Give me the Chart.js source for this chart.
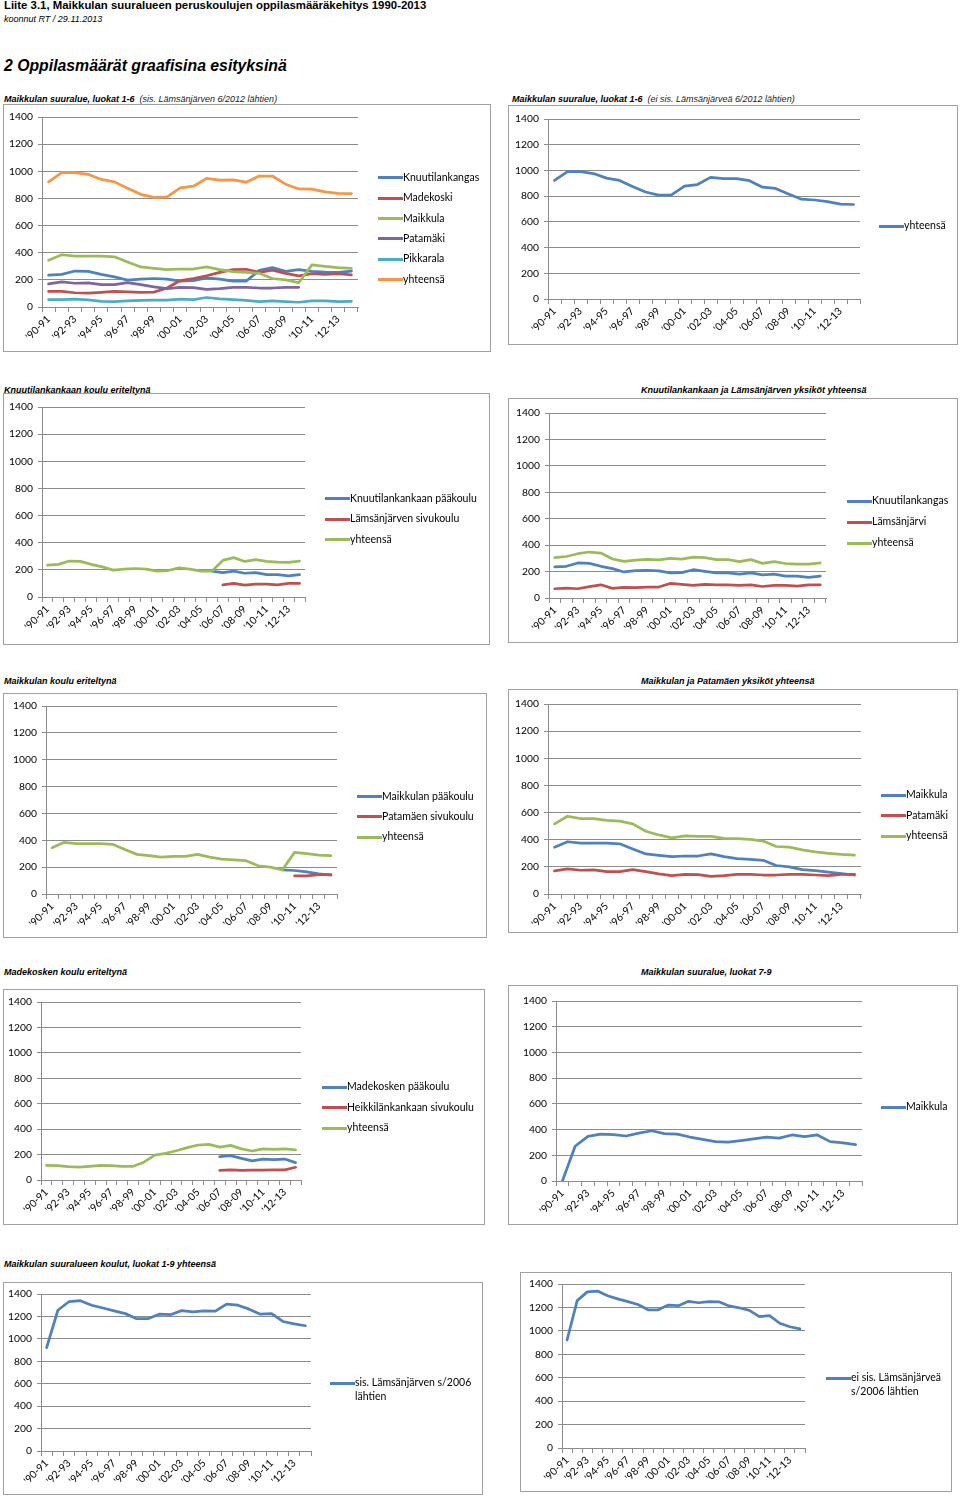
<!DOCTYPE html>
<html lang="fi">
<head>
<meta charset="utf-8">
<title>Maikkulan suuralueen peruskoulujen oppilasmääräkehitys 1990-2013</title>
<script src="https://cdn.jsdelivr.net/npm/chart.js@4.4.1/dist/chart.umd.min.js"></script>
<style>
  body { margin: 0; width: 960px; height: 1497px; background: #fff; position: relative; overflow: hidden;
         font-family: "Liberation Sans", Arial, sans-serif; color: #000; }
  .txt { position: absolute; white-space: nowrap; }
  .head { left: 4px; top: -2px; font-size: 11.4px; line-height: 14px; font-weight: bold; }
  .sub { left: 4px; top: 13px; font-size: 9px; line-height: 12px; font-style: italic; }
  .sect { left: 4px; top: 56px; font-size: 15.8px; line-height: 20px; font-weight: bold; font-style: italic; }
  .ttl { font-size: 9px; line-height: 10px; font-weight: bold; font-style: italic; }
  .ttl span { font-weight: normal; color: #222; }
  canvas { position: absolute; }
  .frame { position: absolute; border: 1px solid #a0a0a0; box-sizing: border-box; }
  .legend-item { position: absolute; display: flex; align-items: flex-start;
                 font-family: Lato, sans-serif; font-size: 10.5px; line-height: 13.5px; }
  .legend-item i { flex: none; width: 25px; height: 3px; margin-top: 5.5px; }
  .legend-item span { white-space: pre; }
</style>
</head>
<body>
<div class="txt head">Liite 3.1, Maikkulan suuralueen peruskoulujen oppilasmääräkehitys 1990-2013</div>
<div class="txt sub">koonnut RT / 29.11.2013</div>
<div class="txt sect">2 Oppilasmäärät graafisina esityksinä</div>

<div class="txt ttl" style="left:4px; top:94px;">Maikkulan suuralue, luokat 1-6 &nbsp;<span>(sis. Lämsänjärven 6/2012 lähtien)</span></div>
<div class="txt ttl" style="left:512px; top:94px;">Maikkulan suuralue, luokat 1-6 &nbsp;<span>(ei sis. Lämsänjärveä 6/2012 lähtien)</span></div>
<div class="txt ttl" style="left:4px; top:385px;">Knuutilankankaan koulu eriteltynä</div>
<div class="txt ttl" style="left:641px; top:385px;">Knuutilankankaan ja Lämsänjärven yksiköt yhteensä</div>
<div class="txt ttl" style="left:4px; top:676px;">Maikkulan koulu eriteltynä</div>
<div class="txt ttl" style="left:641px; top:676px;">Maikkulan ja Patamäen yksiköt yhteensä</div>
<div class="txt ttl" style="left:4px; top:967px;">Madekosken koulu eriteltynä</div>
<div class="txt ttl" style="left:641px; top:967px;">Maikkulan suuralue, luokat 7-9</div>
<div class="txt ttl" style="left:4px; top:1259px;">Maikkulan suuralueen koulut, luokat 1-9 yhteensä</div>

<script>
/* ---------- Data ---------- */
const years = ["'90-91", "'91-92", "'92-93", "'93-94", "'94-95", "'95-96", "'96-97", "'97-98",
  "'98-99", "'99-00", "'00-01", "'01-02", "'02-03", "'03-04", "'04-05", "'05-06",
  "'06-07", "'07-08", "'08-09", "'09-10", "'10-11", "'11-12", "'12-13", "'13-14"];
const yTickValues = [0, 200, 400, 600, 800, 1000, 1200, 1400];

// luokat 1-6, koulut
const knuutilankangas16 = [235, 240, 265, 262, 240, 222, 198, 205, 210, 205, 190, 195, 215, 205, 190, 190, 270, 290, 262, 275, 262, 257, 255, 265];
const madekoski16 = [115, 115, 105, 102, 108, 115, 112, 108, 110, 140, 195, 210, 230, 255, 275, 278, 255, 272, 248, 230, 245, 240, 245, 237];
const maikkula16 = [345, 385, 375, 375, 375, 370, 332, 295, 285, 275, 280, 280, 295, 275, 260, 255, 248, 210, 200, 180, 310, 300, 290, 285];
const patamaki16 = [170, 185, 175, 178, 165, 165, 180, 165, 148, 135, 145, 142, 130, 135, 145, 145, 140, 140, 145, 145, null, null, null, null];
const pikkarala16 = [55, 55, 58, 52, 42, 40, 45, 48, 50, 50, 58, 55, 70, 60, 55, 48, 40, 45, 40, 35, 45, 45, 40, 42];
const yhteensa16sis = [922, 990, 990, 978, 940, 922, 875, 830, 808, 812, 878, 890, 948, 935, 937, 920, 965, 965, 905, 870, 868, 848, 838, 836];
const yhteensa16ei = [922, 990, 990, 976, 940, 922, 875, 832, 808, 810, 878, 890, 946, 936, 936, 920, 870, 860, 816, 776, 770, 758, 738, 735];

// Knuutilankangas eriteltynä
const knuutilaPaakoulu = [null, null, null, null, null, null, null, null, null, null, null, null, null, null, null, 190, 180, 190, 175, 180, 165, 165, 155, 165];
const lamsaSivukoulu = [null, null, null, null, null, null, null, null, null, null, null, null, null, null, null, null, 90, 100, 87, 95, 95, 90, 100, 100];

// Knuutilankangas + Lämsänjärvi
const knuutilankangas = [235, 240, 265, 262, 240, 222, 197, 208, 210, 205, 190, 192, 214, 202, 190, 190, 180, 190, 175, 180, 166, 166, 156, 166];
const lamsanjarvi = [70, 74, 70, 86, 100, 73, 80, 78, 83, 83, 110, 103, 95, 103, 100, 100, 95, 100, 87, 95, 95, 90, 100, 100];
const knuutilaLamsaYht = [305, 314, 335, 348, 340, 295, 277, 286, 293, 288, 300, 295, 309, 305, 290, 290, 275, 290, 262, 275, 261, 256, 256, 266];

// Maikkula eriteltynä
const maikkulaPaakoulu = [null, null, null, null, null, null, null, null, null, null, null, null, null, null, null, null, null, null, null, 180, 175, 165, 150, 140];
const patamakiSivukoulu = [null, null, null, null, null, null, null, null, null, null, null, null, null, null, null, null, null, null, null, null, 135, 135, 145, 145];

// Maikkula + Patamäki
const maikkula = [345, 385, 375, 375, 375, 370, 332, 295, 285, 275, 280, 280, 295, 275, 260, 255, 248, 210, 200, 180, 172, 162, 150, 140];
const patamaki = [170, 185, 175, 178, 165, 165, 180, 165, 148, 135, 145, 142, 130, 135, 145, 145, 140, 140, 145, 145, 140, 135, 145, 145];
const maikkulaPatamakiYht = [517, 573, 555, 555, 543, 537, 517, 462, 435, 413, 428, 425, 425, 410, 408, 402, 390, 350, 345, 325, 310, 300, 292, 287];

// Madekoski eriteltynä
const madekoskiPaakoulu = [null, null, null, null, null, null, null, null, null, null, null, null, null, null, null, null, 183, 192, 170, 150, 165, 160, 165, 137];
const heikkilaSivukoulu = [null, null, null, null, null, null, null, null, null, null, null, null, null, null, null, null, 75, 80, 75, 77, 78, 80, 80, 100];
const madekoskiYht = [115, 113, 105, 102, 108, 115, 113, 108, 108, 140, 195, 210, 230, 255, 275, 280, 258, 272, 245, 228, 245, 240, 245, 237];

// luokat 7-9 ja 1-9
const maikkula79 = [0, 270, 347, 365, 360, 350, 373, 391, 368, 365, 342, 324, 306, 303, 314, 327, 342, 334, 358, 345, 358, 306, 296, 283];
const yhteensa19sis = [922, 1255, 1333, 1340, 1300, 1275, 1250, 1225, 1180, 1180, 1220, 1215, 1252, 1240, 1250, 1248, 1310, 1300, 1265, 1220, 1226, 1155, 1133, 1117];
const yhteensa19ei = [922, 1258, 1333, 1340, 1300, 1273, 1250, 1225, 1180, 1180, 1220, 1215, 1252, 1240, 1250, 1248, 1213, 1197, 1175, 1122, 1130, 1065, 1035, 1017];

/* ---------- Styles ---------- */
const BLUE = "#4F81BD", RED = "#C0504D", GREEN = "#9BBB59", PURPLE = "#8064A2", TEAL = "#4BACC6", ORANGE = "#F79646";
const AXIS_GRAY = "#8c8c8c";

// box / plot: [left, top, right, bottom] in page px; legend: [lineLeft, firstCenterY, gap]
const panels = [
  { box: [3, 104, 491, 352], plot: [42, 117, 358, 307], legend: [378, 177.5, 20.4],
    series: [["Knuutilankangas", knuutilankangas16, BLUE], ["Madekoski", madekoski16, RED],
             ["Maikkula", maikkula16, GREEN], ["Patamäki", patamaki16, PURPLE],
             ["Pikkarala", pikkarala16, TEAL], ["yhteensä", yhteensa16sis, ORANGE]] },
  { box: [508, 105, 958, 345], plot: [548, 119, 860, 299], legend: [879, 226, 0],
    series: [["yhteensä", yhteensa16ei, BLUE]] },
  { box: [3, 393, 490, 645], plot: [42, 407, 305, 597], legend: [325, 498.5, 20.6],
    series: [["Knuutilankankaan pääkoulu", knuutilaPaakoulu, BLUE], ["Lämsänjärven sivukoulu", lamsaSivukoulu, RED],
             ["yhteensä", knuutilankangas16, GREEN]] },
  { box: [508, 398, 958, 643], plot: [549, 413, 826, 598], legend: [847, 501, 21],
    series: [["Knuutilankangas", knuutilankangas, BLUE], ["Lämsänjärvi", lamsanjarvi, RED],
             ["yhteensä", knuutilaLamsaYht, GREEN]] },
  { box: [3, 693, 487, 938], plot: [46, 706, 337, 894], legend: [357, 796.5, 20.2],
    series: [["Maikkulan pääkoulu", maikkulaPaakoulu, BLUE], ["Patamäen sivukoulu", patamakiSivukoulu, RED],
             ["yhteensä", maikkula16, GREEN]] },
  { box: [508, 689, 958, 933], plot: [548, 704, 861, 894], legend: [881, 795, 20.5],
    series: [["Maikkula", maikkula, BLUE], ["Patamäki", patamaki, RED],
             ["yhteensä", maikkulaPatamakiYht, GREEN]] },
  { box: [3, 989, 485, 1225], plot: [41, 1002, 301, 1180], legend: [322, 1087, 20.5],
    series: [["Madekosken pääkoulu", madekoskiPaakoulu, BLUE], ["Heikkilänkankaan sivukoulu", heikkilaSivukoulu, RED],
             ["yhteensä", madekoskiYht, GREEN]] },
  { box: [508, 985, 958, 1225], plot: [556, 1001, 862, 1181], legend: [881, 1107, 0],
    series: [["Maikkula", maikkula79, BLUE]] },
  { box: [3, 1282, 483, 1495], plot: [41, 1294, 311, 1451], legend: [330, 1383, 0],
    series: [["sis. Lämsänjärven s/2006\nlähtien", yhteensa19sis, BLUE]] },
  { box: [520, 1272, 952, 1492], plot: [562, 1284, 805, 1448], legend: [826, 1378, 0],
    series: [["ei sis. Lämsänjärveä\ns/2006 lähtien", yhteensa19ei, BLUE]] }
];

/* ---------- Build ---------- */
document.addEventListener("DOMContentLoaded", function () {
  panels.forEach(buildPanel);
});

function buildPanel(panel) {
  const [bl, bt, br, bb] = panel.box;
  const [pl, pt, pr, pb] = panel.plot;
  const w = br - bl;
  const h = bb - bt;

  const canvas = document.createElement("canvas");
  canvas.width = w;
  canvas.height = h;
  canvas.style.left = bl + "px";
  canvas.style.top = bt + "px";
  document.body.appendChild(canvas);

  const frame = document.createElement("div");
  frame.className = "frame";
  frame.style.left = bl + "px";
  frame.style.top = bt + "px";
  frame.style.width = w + "px";
  frame.style.height = h + "px";
  document.body.appendChild(frame);

  const n = panel.series.length;
  const tickFont = { family: "Lato", size: 10.3 };

  new Chart(canvas, {
    type: "line",
    data: {
      labels: years,
      datasets: panel.series.map(([label, values, color], i) => ({
        label: label,
        data: values,
        borderColor: color,
        backgroundColor: color,
        borderWidth: 2.75,
        pointRadius: 0,
        tension: 0,
        borderJoinStyle: "round",
        borderCapStyle: "round",
        order: n - i
      }))
    },
    options: {
      responsive: false,
      animation: false,
      layout: { padding: { left: 0, top: pt - bt, right: br - pr, bottom: 0 } },
      plugins: { legend: { display: false }, tooltip: { enabled: false } },
      scales: {
        x: {
          offset: true,
          grid: { offset: true, drawOnChartArea: false, color: AXIS_GRAY, tickLength: 5 },
          border: { color: AXIS_GRAY },
          ticks: {
            color: "#000",
            font: tickFont,
            autoSkip: false,
            minRotation: 45,
            maxRotation: 45,
            padding: 1,
            callback: (value, index) => (index % 2 === 0 ? years[index] : "")
          },
          afterFit: (scale) => { scale.height = bb - pb; }
        },
        y: {
          min: yTickValues[0],
          max: yTickValues[yTickValues.length - 1],
          grid: { color: AXIS_GRAY, tickLength: 4 },
          border: { color: AXIS_GRAY },
          ticks: {
            color: "#000",
            font: tickFont,
            stepSize: yTickValues[1] - yTickValues[0],
            padding: 5,
            callback: (value) => String(value)
          },
          afterFit: (scale) => { scale.width = pl - bl; }
        }
      }
    }
  });

  const [lx, ly, gap] = panel.legend;
  panel.series.forEach(([label, , color], i) => {
    const item = document.createElement("div");
    item.className = "legend-item";
    item.style.left = lx + "px";
    item.style.top = (ly + i * gap - 6.75) + "px";
    item.innerHTML = `<i style="background:${color}"></i><span></span>`;
    item.querySelector("span").textContent = label;
    document.body.appendChild(item);
  });
}
</script>
</body>
</html>
